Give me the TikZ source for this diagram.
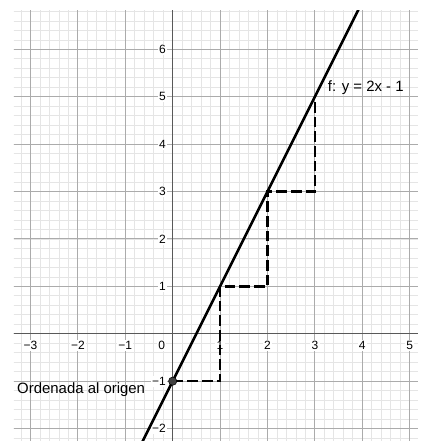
\documentclass[tikz,border=0pt]{standalone}
\usepackage{fontspec}
\setmainfont{Liberation Sans}
\begin{document}
\begin{tikzpicture}[x=35.55pt,y=35.55pt,
  minorgrid/.style={draw=black!10,line width=0.6pt},
  majorgrid/.style={draw=black!33,line width=0.75pt},
  axisline/.style={draw=black!65,line width=0.9pt},
  fline/.style={draw=black,line width=1.9pt},
  stairs/.style={draw=black,line width=1.9pt,dash pattern=on 8pt off 3pt},
  ticklab/.style={fill=white,inner sep=1pt,font=\fontsize{9}{10.5}\selectfont},
  biglab/.style={inner sep=0pt,font=\fontsize{11.2}{13}\selectfont},
  pt/.style={circle,fill=black!75,draw=black,line width=0.4pt,inner sep=0pt,minimum size=6.2pt}]
\useasboundingbox (-3.643,-2.262) rectangle (5.302,7.042);
\begin{scope}
\clip (-3.348,-2.262) rectangle (5.175,6.81);
\foreach \i in {-17,...,26} \draw[minorgrid] (\i/5,-2.4) -- (\i/5,7);
\foreach \j in {-12,...,34} \draw[minorgrid] (-3.4,\j/5) -- (5.3,\j/5);
\foreach \i in {-3,...,5} \draw[majorgrid] (\i,-2.4) -- (\i,7);
\foreach \j in {-2,...,6} \draw[majorgrid] (-3.4,\j) -- (5.3,\j);
\coordinate (XL) at (-3.4,0);
\coordinate (XR) at (5.3,0);
\coordinate (YB) at (0,-2.4);
\coordinate (YT) at (0,7);
\draw[axisline] (XL) -- (XR);
\draw[axisline] (YB) -- (YT);
\foreach \i/\t in {-3/−3,-2/−2,-1/−1,1/1,2/2,3/3,4/4,5/5}
  \node[ticklab] (xl\i) at (\i,-0.245) {\t};
\node[ticklab] (xl0) at (-0.232,-0.245) {0};
\foreach \j/\t in {-2/−2,-1/−1,1/1,2/2,3/3,4/4,5/5,6/6}
  \node[ticklab,anchor=east] (yl\j) at (-0.11,\j) {\t};
\coordinate (P0) at (0,-1);
\coordinate (S1) at (1,-1);
\coordinate (P1) at (1,1);
\coordinate (S2) at (2,1);
\coordinate (P2) at (2,3);
\coordinate (S3) at (3,3);
\coordinate (P3) at (3,5);
\draw[stairs] (P0) -- (S1) -- (P1) -- (S2) -- (P2) -- (S3) -- (P3);
\coordinate (L1) at (-0.75,-2.5);
\coordinate (L2) at (4.05,7.1);
\draw[fline] (L1) -- (L2);
\end{scope}
\node[pt] (O) at (0,-1) {};
\node[biglab,anchor=base west] (ord) at (-3.285,-1.255) {Ordenada al origen};
\node[biglab,anchor=base west] (flab) at (3.27,5.108) {f: y = 2x - 1};
\end{tikzpicture}
\end{document}
